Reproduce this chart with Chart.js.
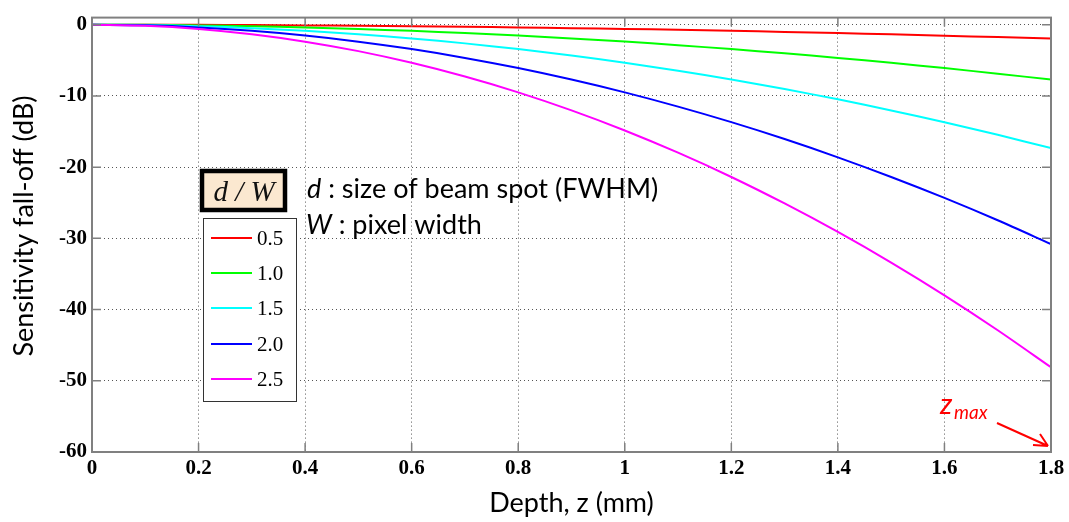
<!DOCTYPE html>
<html>
<head>
<meta charset="utf-8">
<script src="https://cdn.jsdelivr.net/npm/chart.js@4.4.0/dist/chart.umd.min.js"></script>
<style>
  html, body { margin: 0; padding: 0; background: #fff; }
  #wrap { width: 1069px; height: 522px; position: relative; }
</style>
</head>
<body>
<div id="wrap"><canvas id="falloffChart"></canvas></div>
<script>
// --- values ---
const depth = [0, 0.1, 0.2, 0.3, 0.4, 0.5, 0.6, 0.7, 0.8, 0.9, 1.0, 1.1, 1.2, 1.3, 1.4, 1.5, 1.6, 1.7, 1.8];
const dw05 = [0, 0, -0.02, -0.05, -0.1, -0.15, -0.21, -0.29, -0.38, -0.48, -0.59, -0.72, -0.86, -1.01, -1.17, -1.35, -1.54, -1.74, -1.95];
const dw10 = [0, -0.02, -0.1, -0.21, -0.38, -0.6, -0.86, -1.17, -1.52, -1.93, -2.35, -2.88, -3.42, -4.02, -4.66, -5.35, -6.09, -6.88, -7.7];
const dw15 = [0, -0.05, -0.21, -0.48, -0.86, -1.34, -1.93, -2.62, -3.42, -4.33, -5.35, -6.47, -7.7, -9.04, -10.48, -12.04, -13.7, -15.46, -17.33];
const dw20 = [0, -0.09, -0.38, -0.86, -1.52, -2.38, -3.42, -4.66, -6.08, -7.7, -9.5, -11.5, -13.68, -16.05, -18.62, -21.38, -24.32, -27.46, -30.8];
const dw25 = [0, -0.15, -0.59, -1.34, -2.38, -3.71, -5.35, -7.28, -9.5, -12.03, -14.85, -17.97, -21.38, -25.1, -29.1, -33.4, -38.0, -42.9, -48.1];
const ratioLabels = ['0.5', '1.0', '1.5', '2.0', '2.5'];
const xTicks = [0, 0.2, 0.4, 0.6, 0.8, 1.0, 1.2, 1.4, 1.6, 1.8];
const yTicks = [-60, -50, -40, -30, -20, -10, 0];

const seriesValues = [dw05, dw10, dw15, dw20, dw25];
const seriesColors = ['#ff0000', '#00ff00', '#00ffff', '#0000ff', '#ff00ff'];

const datasets = seriesValues.map(function(vals, i) {
    return {
        label: ratioLabels[i],
        data: depth.map(function(z, k) { return { x: z, y: vals[k] }; }),
        borderColor: seriesColors[i],
        borderWidth: 2,
        pointRadius: 0,
        tension: 0.3,
        fill: false,
        order: 4 - i // magenta ends up on top
    };
});

const serif = "'Liberation Serif', 'DejaVu Serif', serif";
const sans = "Lato, 'Open Sans', sans-serif";

// --- box, inward ticks, legend and annotations (MATLAB look) ---
const matlabDecor = {
    id: 'matlabDecor',
    afterDatasetsDraw(chart) {
        const { ctx, chartArea: { top, bottom, left, right }, scales: { x, y } } = chart;
        ctx.save();
        ctx.strokeStyle = '#808080';
        ctx.lineWidth = 1.5;
        const tl = 9;
        ctx.beginPath();
        xTicks.forEach(function(v) {
            const px = x.getPixelForValue(v);
            ctx.moveTo(px, bottom); ctx.lineTo(px, bottom - tl);
            ctx.moveTo(px, top); ctx.lineTo(px, top + tl);
        });
        yTicks.forEach(function(v) {
            const py = y.getPixelForValue(v);
            ctx.moveTo(left, py); ctx.lineTo(left + tl, py);
            ctx.moveTo(right, py); ctx.lineTo(right - tl, py);
        });
        ctx.stroke();
        ctx.lineWidth = 2;
        ctx.strokeRect(left, top, right - left, bottom - top);
        ctx.restore();
    },
    afterDraw(chart) {
        const { ctx } = chart;
        ctx.save();

        // y axis title
        ctx.fillStyle = '#000';
        ctx.font = '27px ' + sans;
        ctx.textAlign = 'center';
        ctx.textBaseline = 'alphabetic';
        ctx.translate(33, 226);
        ctx.rotate(-Math.PI / 2);
        ctx.fillText('Sensitivity fall-off (dB)', 0, 0);
        ctx.setTransform(1, 0, 0, 1, 0, 0);

        // "d / W" header box
        ctx.fillStyle = '#fbe8d0';
        ctx.fillRect(200, 169, 87, 43);
        ctx.strokeStyle = '#000';
        ctx.lineWidth = 4.5;
        ctx.strokeRect(202, 171, 83, 39);
        ctx.fillStyle = '#111';
        ctx.font = 'italic 29px ' + serif;
        ctx.textAlign = 'center';
        ctx.fillText('d / W', 244, 201);

        // legend box
        ctx.fillStyle = '#fff';
        ctx.fillRect(203, 218, 94, 184);
        ctx.strokeStyle = '#333';
        ctx.lineWidth = 1;
        ctx.strokeRect(203.5, 218.5, 93, 183);
        const rowY = [238, 273, 308, 344, 379];
        chart.data.datasets.forEach(function(ds, i) {
            ctx.strokeStyle = ds.borderColor;
            ctx.lineWidth = 2;
            ctx.beginPath();
            ctx.moveTo(211, rowY[i]);
            ctx.lineTo(252, rowY[i]);
            ctx.stroke();
            ctx.fillStyle = '#000';
            ctx.font = '21px ' + serif;
            ctx.textAlign = 'left';
            ctx.textBaseline = 'middle';
            ctx.fillText(ds.label, 257, rowY[i] + 1);
        });

        // definitions
        ctx.textBaseline = 'alphabetic';
        ctx.textAlign = 'left';
        ctx.fillStyle = '#000';
        ctx.font = 'italic 27px ' + sans;
        ctx.fillText('d', 307, 198);
        let w = ctx.measureText('d').width;
        ctx.font = '27px ' + sans;
        ctx.fillText(' : size of beam spot (FWHM)', 307 + w, 198);
        ctx.font = 'italic 27px ' + sans;
        ctx.fillText('W', 306, 234);
        w = ctx.measureText('W').width;
        ctx.font = '27px ' + sans;
        ctx.fillText(' : pixel width', 306 + w, 234);

        // z_max marker
        ctx.fillStyle = '#ff0000';
        ctx.font = 'italic 29px ' + sans;
        ctx.fillText('z', 940, 414);
        ctx.font = 'italic 19px ' + sans;
        ctx.fillText('max', 954, 419);
        const { x, y } = chart.scales;
        const ax = x.getPixelForValue(depth[depth.length - 1]) - 3;
        const ay = y.getPixelForValue(-60) - 6;
        ctx.strokeStyle = '#ff0000';
        ctx.lineWidth = 2;
        ctx.beginPath();
        ctx.moveTo(997, 423);
        ctx.lineTo(ax, ay);
        ctx.moveTo(ax, ay);
        ctx.lineTo(ax - 15, ay - 1);
        ctx.moveTo(ax, ay);
        ctx.lineTo(ax - 8, ay - 12);
        ctx.stroke();

        ctx.restore();
    }
};

const config = {
    type: 'line',
    data: { datasets: datasets },
    options: {
        responsive: true,
        maintainAspectRatio: false,
        animation: false,
        layout: { padding: { left: 0, right: 18, top: 6, bottom: 0 } },
        plugins: {
            legend: { display: false },
            tooltip: { enabled: false }
        },
        scales: {
            x: {
                type: 'linear',
                min: 0,
                max: 1.8,
                afterBuildTicks: function(scale) {
                    scale.ticks = xTicks.map(function(v) { return { value: v }; });
                },
                afterFit: function(scale) { scale.height = 70; },
                ticks: {
                    color: '#000',
                    padding: 4,
                    maxRotation: 0,
                    font: { family: serif, size: 21, weight: 'bold' },
                    callback: function(v) { return String(Math.round(v * 10) / 10); }
                },
                grid: { color: '#555', lineWidth: 1, drawTicks: false },
                border: { display: false, dash: [1, 3] },
                title: {
                    display: true,
                    text: 'Depth, z (mm)',
                    color: '#000',
                    font: { family: sans, size: 27 },
                    padding: { top: 0, bottom: 3 }
                }
            },
            y: {
                type: 'linear',
                min: -60,
                max: 1,
                afterBuildTicks: function(scale) {
                    scale.ticks = yTicks.map(function(v) { return { value: v }; });
                },
                afterFit: function(scale) { scale.width = 92; },
                ticks: {
                    color: '#000',
                    padding: 5,
                    font: { family: serif, size: 21, weight: 'bold' }
                },
                grid: { color: '#555', lineWidth: 1, drawTicks: false },
                border: { display: false, dash: [1, 3] }
            }
        }
    },
    plugins: [matlabDecor]
};

const falloffChart = new Chart(document.getElementById('falloffChart'), config);
</script>
</body>
</html>
